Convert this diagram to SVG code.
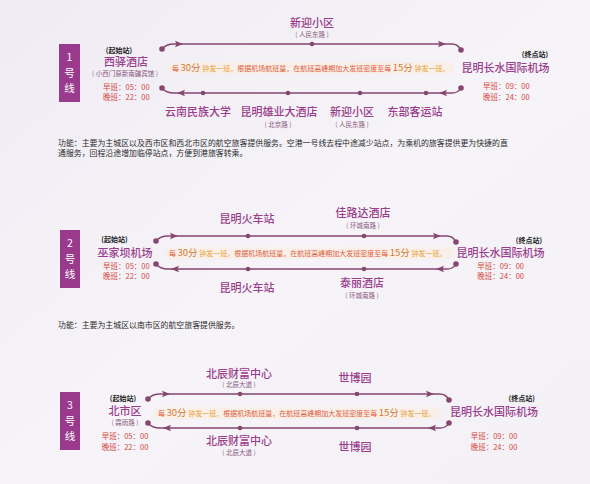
<svg xmlns="http://www.w3.org/2000/svg" width="590" height="484" viewBox="0 0 590 484">
<defs>
<linearGradient id="bg" x1="0" y1="0" x2="1" y2="1">
<stop offset="0" stop-color="#efebf4"/>
<stop offset="0.5" stop-color="#f6f4f8"/>
<stop offset="1" stop-color="#f3f1f6"/>
</linearGradient>
<path id="ar" d="M-4,-3.2 L4,0 L-4,3.2 L-2.5,0 Z"/>
</defs>
<style>
text{font-family:"Noto Sans CJK SC","Noto Sans",sans-serif}
.badge{fill:#993a8c}
.bt{fill:#fff;font-size:10.5px;text-anchor:middle}
.tag{fill:#222;font-size:7px;font-weight:bold;text-anchor:middle}
.st{fill:#9a3d8c;font-size:11px;font-weight:500;text-anchor:middle}
.rd{fill:#8a5a80;font-size:6.5px;text-anchor:middle}
.tm{fill:#d4463c;font-size:7.5px}
.tmc{fill:#d4463c;font-size:7.5px;text-anchor:middle}
.fn{fill:#2a2a2a;font-size:7.9px}
.ln{fill:none;stroke:#86466f;stroke-width:1.3}
.dot{fill:#86466f}
.arw{fill:#86466f}
.or{font-size:7px;fill:#e0603a}
.o1{fill:#e8a030}
.o2{fill:#cf7a2e;font-size:9.5px}
.glow{fill:#fbeee4;opacity:0.7}
</style>
<rect width="590" height="484" fill="url(#bg)"/>

<!-- Line 1 -->
<g id="badge1"><rect class="badge" x="59" y="44" width="21" height="58"/><text class="bt" x="69.5" y="61">1</text><text class="bt" x="69.5" y="76.5">号</text><text class="bt" x="69.5" y="92">线</text></g>
<g id="l1-start"><text class="tag" x="119" y="52.5">(起始站)</text><text class="st" x="126" y="66">西驿酒店</text><text class="rd" x="125" y="75.5">( 小西门原新南疆宾馆 )</text><text class="tm" x="103" y="90">早班：05：00</text><text class="tm" x="103" y="100">晚班：22：00</text></g>
<g id="l1-end"><text class="tag" x="535" y="57">(终点站)</text><text class="st" x="505.6" y="72">昆明长水国际机场</text><text class="tm" x="483" y="89">早班：09：00</text><text class="tm" x="483" y="100">晚班：24：00</text></g>
<g id="l1-up1"><text class="st" x="312" y="27">新迎小区</text><text class="rd" x="312" y="36.5">( 人民东路 )</text></g>
<g id="l1-dn1"><text class="st" x="198" y="116">云南民族大学</text></g>
<g id="l1-dn2"><text class="st" x="279" y="116">昆明雄业大酒店</text><text class="rd" x="278" y="126.5">( 北京路 )</text></g>
<g id="l1-dn3"><text class="st" x="352" y="116">新迎小区</text><text class="rd" x="352" y="126.5">( 人民东路 )</text></g>
<g id="l1-dn4"><text class="st" x="415" y="116">东部客运站</text></g>
<g id="l1-note"><rect class="glow" x="168" y="62" width="286" height="12" rx="5"/><text class="or" x="172" y="71"><tspan>每 </tspan><tspan class="o2">30分</tspan><tspan class="o1"> 钟发一班，</tspan><tspan>根据机场航班量，在航班高峰期加大发班密度至每 </tspan><tspan class="o2">15分</tspan><tspan class="o1"> 钟发一班。</tspan></text></g>
<g id="l1-fn"><text class="fn" x="58" y="146">功能：主要为主城区以及西市区和西北市区的航空旅客提供服务。空港一号线去程中途减少站点，为乘机的旅客提供更为快捷的直</text><text class="fn" x="58" y="155.5">通服务，回程沿途增加临停站点，方便到港旅客转乘。</text></g>

<!-- Line 2 -->
<g id="badge2"><rect class="badge" x="60" y="230" width="20" height="58"/><text class="bt" x="70" y="247">2</text><text class="bt" x="70" y="262.5">号</text><text class="bt" x="70" y="278">线</text></g>
<g id="l2-start"><text class="tag" x="114.5" y="242">(起始站)</text><text class="st" x="125" y="256.7">巫家坝机场</text><text class="tm" x="103" y="268.5">早班：05：00</text><text class="tm" x="103" y="279">晚班：22：00</text></g>
<g id="l2-end"><text class="tag" x="529" y="242.5">(终点站)</text><text class="st" x="500.6" y="256.7">昆明长水国际机场</text><text class="tmc" x="500.7" y="268.5">早班：09：00</text><text class="tmc" x="500.7" y="279">晚班：24：00</text></g>
<g id="l2-up1"><text class="st" x="247" y="223">昆明火车站</text></g>
<g id="l2-up2"><text class="st" x="363" y="217">佳路达酒店</text><text class="rd" x="363" y="227.5">( 环城南路 )</text></g>
<g id="l2-dn1"><text class="st" x="247" y="292">昆明火车站</text></g>
<g id="l2-dn2"><text class="st" x="362" y="287.3">泰丽酒店</text><text class="rd" x="362" y="298">( 环城南路 )</text></g>
<g id="l2-note"><rect class="glow" x="165" y="247" width="289" height="12" rx="5"/><text class="or" x="169" y="256"><tspan>每 </tspan><tspan class="o2">30分</tspan><tspan class="o1"> 钟发一班，</tspan><tspan>根据机场航班量，在航班高峰期加大发班密度至每 </tspan><tspan class="o2">15分</tspan><tspan class="o1"> 钟发一班。</tspan></text></g>
<g id="l2-fn"><text class="fn" x="58" y="328">功能：主要为主城区以南市区的航空旅客提供服务。</text></g>

<!-- Line 3 -->
<g id="badge3"><rect class="badge" x="60" y="392" width="20" height="58"/><text class="bt" x="70" y="409">3</text><text class="bt" x="70" y="424.5">号</text><text class="bt" x="70" y="440">线</text></g>
<g id="l3-start"><text class="tag" x="123" y="401">(起始站)</text><text class="st" x="125" y="415">北市区</text><text class="rd" x="125" y="425">( 霖雨路 )</text><text class="tm" x="101.7" y="438.5">早班：05：00</text><text class="tm" x="101.7" y="449.5">晚班：22：00</text></g>
<g id="l3-end"><text class="tag" x="521.7" y="401">(终点站)</text><text class="st" x="494" y="416">昆明长水国际机场</text><text class="tmc" x="494" y="439">早班：09：00</text><text class="tmc" x="494" y="450">晚班：24：00</text></g>
<g id="l3-up1"><text class="st" x="239" y="377.5">北辰财富中心</text><text class="rd" x="239" y="387">( 北辰大道 )</text></g>
<g id="l3-up2"><text class="st" x="355" y="382">世博园</text></g>
<g id="l3-dn1"><text class="st" x="239" y="445">北辰财富中心</text><text class="rd" x="239" y="455">( 北辰大道 )</text></g>
<g id="l3-dn2"><text class="st" x="355" y="451">世博园</text></g>
<g id="l3-note"><rect class="glow" x="154" y="407" width="288" height="12" rx="5"/><text class="or" x="158" y="416"><tspan>每 </tspan><tspan class="o2">30分</tspan><tspan class="o1"> 钟发一班，</tspan><tspan>根据机场航班量，在航班高峰期加大发班密度至每 </tspan><tspan class="o2">15分</tspan><tspan class="o1"> 钟发一班。</tspan></text></g>

<g id="connectors">
<path class="ln" d="M162,49 Q166,44 174,44 H452 Q458,44 461,50"/>
<path class="ln" d="M162,88 Q166,93 174,93 H452 Q458,93 461,88"/>
<path class="ln" d="M156,241 Q160,236 168,236 H447 Q453,236 456,242"/>
<path class="ln" d="M156,264 Q160,269 168,269 H447 Q453,269 456,264"/>
<path class="ln" d="M148,399 Q152,394 160,394 H440 Q446,394 449,400"/>
<path class="ln" d="M148,423 Q152,428 160,428 H440 Q446,428 449,423"/>
<g class="dot">
<circle cx="162" cy="49" r="2.8"/><circle cx="461" cy="50" r="2.8"/><circle cx="162" cy="88" r="2.8"/><circle cx="461" cy="88" r="2.8"/>
<circle cx="312" cy="44" r="2.3"/><circle cx="203" cy="93" r="2.3"/><circle cx="288" cy="93" r="2.3"/><circle cx="360" cy="93" r="2.3"/><circle cx="426" cy="93" r="2.3"/>
<circle cx="156" cy="241" r="2.8"/><circle cx="456" cy="242" r="2.8"/><circle cx="156" cy="264" r="2.8"/><circle cx="456" cy="264" r="2.8"/>
<circle cx="248" cy="236" r="2.3"/><circle cx="364" cy="236" r="2.3"/><circle cx="248" cy="269" r="2.3"/><circle cx="364" cy="269" r="2.3"/>
<circle cx="148" cy="399" r="2.8"/><circle cx="449" cy="400" r="2.8"/><circle cx="148" cy="423" r="2.8"/><circle cx="449" cy="423" r="2.8"/>
<circle cx="240" cy="394" r="2.3"/><circle cx="357" cy="394" r="2.3"/><circle cx="240" cy="428" r="2.3"/><circle cx="357" cy="428" r="2.3"/>
</g>
<g class="arw">
<use href="#ar" transform="translate(179,44)"/><use href="#ar" transform="translate(442,44)"/>
<use href="#ar" transform="translate(181,93) rotate(180)"/><use href="#ar" transform="translate(443,93) rotate(180)"/>
<use href="#ar" transform="translate(174,236)"/><use href="#ar" transform="translate(437,236)"/>
<use href="#ar" transform="translate(175,269) rotate(180)"/><use href="#ar" transform="translate(440,269) rotate(180)"/>
<use href="#ar" transform="translate(166,394)"/><use href="#ar" transform="translate(430,394)"/>
<use href="#ar" transform="translate(167,428) rotate(180)"/><use href="#ar" transform="translate(432,428) rotate(180)"/>
</g>
</g>
</svg>
